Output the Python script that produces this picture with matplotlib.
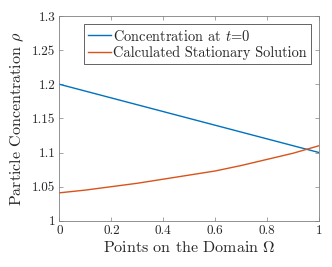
import matplotlib
matplotlib.use("Agg")
import matplotlib.pyplot as plt
import numpy as np

# values
x_pts = [0.0, 0.1, 0.2, 0.3, 0.4, 0.5, 0.6, 0.7, 0.8, 0.9, 1.0]
rho_init = [1.20, 1.19, 1.18, 1.17, 1.16, 1.15, 1.14, 1.13, 1.12, 1.11, 1.10]
rho_stat = [1.041, 1.045, 1.050, 1.055, 1.061, 1.067, 1.073, 1.081, 1.090, 1.099, 1.110]

x_ticks = [0, 0.2, 0.4, 0.6, 0.8, 1]
x_ticklabels = ["0", "0.2", "0.4", "0.6", "0.8", "1"]
y_ticks = [1, 1.05, 1.1, 1.15, 1.2, 1.25, 1.3]
y_ticklabels = ["1", "1.05", "1.1", "1.15", "1.2", "1.25", "1.3"]

plt.rcParams["font.family"] = "serif"
plt.rcParams["font.serif"] = ["cmr10", "DejaVu Serif"]
plt.rcParams["mathtext.fontset"] = "cm"
plt.rcParams["axes.unicode_minus"] = False

fig = plt.figure(figsize=(3.32, 2.67), dpi=100)
ax = fig.add_axes([0.179, 0.173, 0.782, 0.767])

ax.plot(x_pts, rho_init, color="#0072BD", lw=1.0, label="Concentration at $t$=0")
ax.plot(x_pts, rho_stat, color="#D95319", lw=1.0, label="Calculated Stationary Solution")

ax.set_xlim(0, 1)
ax.set_ylim(1, 1.3)
ax.set_xticks(x_ticks)
ax.set_xticklabels(x_ticklabels)
ax.set_yticks(y_ticks)
ax.set_yticklabels(y_ticklabels)

grey = "#262626"
for s in ax.spines.values():
    s.set_color("#808080")
    s.set_linewidth(0.6)
ax.tick_params(direction="in", top=True, right=True, length=3, width=0.5,
               color="#808080", labelcolor=grey, labelsize=9.5, pad=3)

ax.set_xlabel(r"Points on the Domain $\Omega$", fontsize=11.5, color=grey, labelpad=2)
ax.set_ylabel(r"Particle Concentration $\rho$", fontsize=11.5, color=grey, labelpad=4)

leg = ax.legend(loc="upper right", fontsize=10.4, fancybox=False, framealpha=1,
                edgecolor="#262626", handlelength=1.6, handletextpad=0.15,
                borderpad=0.3, borderaxespad=0, labelspacing=0.15,
                bbox_to_anchor=(0.97, 0.96))
leg.get_frame().set_linewidth(0.5)
for t in leg.get_texts():
    t.set_color(grey)

fig.savefig("out.png", dpi=100)
